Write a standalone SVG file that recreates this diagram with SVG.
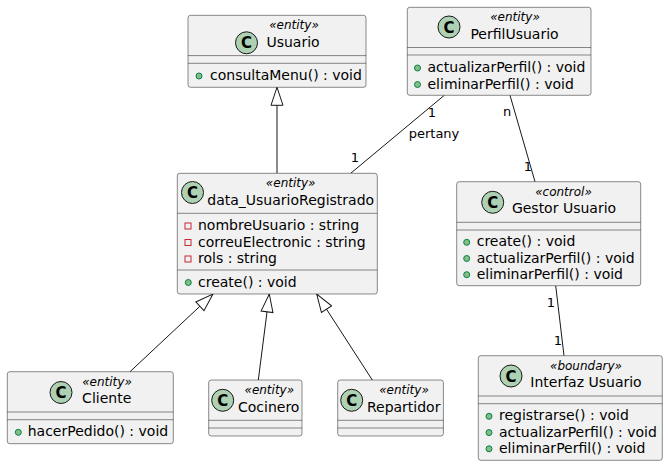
<svg xmlns="http://www.w3.org/2000/svg" width="668" height="466" viewBox="0 0 668 466">
<defs>
<style>
.box{fill:#F1F1F1;stroke:#181818;stroke-width:0.5}
.div{stroke:#181818;stroke-width:0.5}
.ci{fill:#ADD1B2;stroke:#181818;stroke-width:1}
.cl{font-family:"DejaVu Sans",sans-serif;font-size:15px;font-weight:bold;fill:#000;text-anchor:middle}
.st{font-family:"DejaVu Sans",sans-serif;font-size:12px;font-style:italic;fill:#000;text-anchor:middle}
.ti{font-family:"DejaVu Sans",sans-serif;font-size:14px;fill:#000;text-anchor:middle}
.mb{font-family:"DejaVu Sans",sans-serif;font-size:14px;fill:#000}
.pub{fill:#84BE84;stroke:#038048;stroke-width:1}
.prv{fill:none;stroke:#C82930;stroke-width:1}
.ln{stroke:#181818;stroke-width:1;fill:none}
.lb{font-family:"DejaVu Sans",sans-serif;font-size:13px;fill:#000;text-anchor:middle}
</style>
<marker id="inh" markerUnits="userSpaceOnUse" markerWidth="20" markerHeight="14" viewBox="-1 -7 20 14" refX="18" refY="0" orient="auto">
<path d="M0,-6 L18,0 L0,6 Z" fill="#FFFFFF" stroke="#181818" stroke-width="1"/>
</marker>
</defs>
<rect width="668" height="466" fill="#FFFFFF"/>

<g id="connectors">
<line class="ln" x1="277" y1="173.3" x2="277" y2="87.3" marker-end="url(#inh)"/>
<line class="ln" x1="130" y1="371.7" x2="213" y2="294" marker-end="url(#inh)"/>
<line class="ln" x1="258.3" y1="380" x2="269.3" y2="294" marker-end="url(#inh)"/>
<line class="ln" x1="372.3" y1="380" x2="316.7" y2="294" marker-end="url(#inh)"/>
<line class="ln" x1="444.3" y1="95.3" x2="350.7" y2="173.3"/>
<text class="lb" x="432" y="116.7">1</text>
<text class="lb" x="434" y="138">pertany</text>
<text class="lb" x="355" y="161.7">1</text>
<line class="ln" x1="510" y1="95.3" x2="535" y2="181.7"/>
<text class="lb" x="507" y="115.5">n</text>
<text class="lb" x="528" y="170.7">1</text>
<line class="ln" x1="555.7" y1="285.7" x2="564" y2="355.7"/>
<text class="lb" x="551" y="306.7">1</text>
<text class="lb" x="558" y="344.7">1</text>
</g>

<g id="usuario">
<rect class="box" x="188" y="15.3" width="178" height="72" rx="2.5"/>
<circle class="ci" cx="246.5" cy="42.8" r="11"/>
<text class="cl" x="246.5" y="48.3">C</text>
<text class="st" x="294" y="29.3">«entity»</text>
<text class="ti" x="293" y="46.8">Usuario</text>
<line class="div" x1="188" y1="55.6" x2="366" y2="55.6"/>
<line class="div" x1="188" y1="63.3" x2="366" y2="63.3"/>
<circle class="pub" cx="199" cy="76" r="3"/>
<text class="mb" x="210" y="80">consultaMenu() : void</text>
</g>

<g id="perfilUsuario">
<rect class="box" x="407.3" y="7.3" width="183.7" height="88" rx="2.5"/>
<circle class="ci" cx="449" cy="27" r="11"/>
<text class="cl" x="449" y="32.5">C</text>
<text class="st" x="515" y="21.3">«entity»</text>
<text class="ti" x="514.5" y="38.8">PerfilUsuario</text>
<line class="div" x1="407.3" y1="47.5" x2="591" y2="47.5"/>
<line class="div" x1="407.3" y1="55" x2="591" y2="55"/>
<circle class="pub" cx="417.5" cy="68" r="3"/>
<text class="mb" x="427.5" y="72">actualizarPerfil() : void</text>
<circle class="pub" cx="417.5" cy="84.5" r="3"/>
<text class="mb" x="427.5" y="88.5">eliminarPerfil() : void</text>
</g>

<g id="dataUsuarioRegistrado">
<rect class="box" x="177.3" y="173.3" width="200" height="120.7" rx="2.5"/>
<circle class="ci" cx="192.5" cy="192.5" r="11"/>
<text class="cl" x="192.5" y="198">C</text>
<text class="st" x="290.7" y="187.3">«entity»</text>
<text class="ti" x="290.7" y="205">data_UsuarioRegistrado</text>
<line class="div" x1="177.3" y1="213.3" x2="377.3" y2="213.3"/>
<rect class="prv" x="185" y="223" width="6" height="6"/>
<text class="mb" x="198" y="230">nombreUsuario : string</text>
<rect class="prv" x="185" y="239.5" width="6" height="6"/>
<text class="mb" x="198" y="246.5">correuElectronic : string</text>
<rect class="prv" x="185" y="256" width="6" height="6"/>
<text class="mb" x="198" y="263">rols : string</text>
<line class="div" x1="177.3" y1="270" x2="377.3" y2="270"/>
<circle class="pub" cx="188.3" cy="282.5" r="3"/>
<text class="mb" x="198" y="286.5">create() : void</text>
</g>

<g id="gestorUsuario">
<rect class="box" x="456.7" y="181.7" width="184" height="104" rx="2.5"/>
<circle class="ci" cx="492.7" cy="202.3" r="11"/>
<text class="cl" x="492.7" y="207.8">C</text>
<text class="st" x="563.5" y="195.7">«control»</text>
<text class="ti" x="564" y="212.5">Gestor Usuario</text>
<line class="div" x1="456.7" y1="222.3" x2="640.7" y2="222.3"/>
<line class="div" x1="456.7" y1="230" x2="640.7" y2="230"/>
<circle class="pub" cx="466.7" cy="242.3" r="3"/>
<text class="mb" x="476.7" y="246.3">create() : void</text>
<circle class="pub" cx="466.7" cy="258.5" r="3"/>
<text class="mb" x="476.7" y="262.5">actualizarPerfil() : void</text>
<circle class="pub" cx="466.7" cy="274.7" r="3"/>
<text class="mb" x="476.7" y="278.7">eliminarPerfil() : void</text>
</g>

<g id="interfazUsuario">
<rect class="box" x="478.3" y="355.7" width="184" height="104.6" rx="2.5"/>
<circle class="ci" cx="511" cy="376" r="11"/>
<text class="cl" x="511" y="381.5">C</text>
<text class="st" x="586" y="369.7">«boundary»</text>
<text class="ti" x="586" y="387">Interfaz Usuario</text>
<line class="div" x1="478.3" y1="396" x2="662.3" y2="396"/>
<line class="div" x1="478.3" y1="403.7" x2="662.3" y2="403.7"/>
<circle class="pub" cx="489" cy="416.3" r="3"/>
<text class="mb" x="499" y="420.3">registrarse() : void</text>
<circle class="pub" cx="489" cy="432.6" r="3"/>
<text class="mb" x="499" y="436.6">actualizarPerfil() : void</text>
<circle class="pub" cx="489" cy="448.8" r="3"/>
<text class="mb" x="499" y="452.8">eliminarPerfil() : void</text>
</g>

<g id="cliente">
<rect class="box" x="7.3" y="371.7" width="166" height="72" rx="2.5"/>
<circle class="ci" cx="61" cy="392.5" r="11"/>
<text class="cl" x="61" y="398">C</text>
<text class="st" x="107" y="385.7">«entity»</text>
<text class="ti" x="106.7" y="403.2">Cliente</text>
<line class="div" x1="7.3" y1="412" x2="173.3" y2="412"/>
<line class="div" x1="7.3" y1="419.7" x2="173.3" y2="419.7"/>
<circle class="pub" cx="18.3" cy="432.3" r="3"/>
<text class="mb" x="27.7" y="436.3">hacerPedido() : void</text>
</g>

<g id="cocinero">
<rect class="box" x="208.7" y="380" width="93.3" height="56" rx="2.5"/>
<circle class="ci" cx="222.7" cy="400.3" r="11"/>
<text class="cl" x="222.7" y="405.8">C</text>
<text class="st" x="269.3" y="394">«entity»</text>
<text class="ti" x="268.7" y="411.5">Cocinero</text>
<line class="div" x1="208.7" y1="420.3" x2="302" y2="420.3"/>
<line class="div" x1="208.7" y1="428" x2="302" y2="428"/>
</g>

<g id="repartidor">
<rect class="box" x="337.7" y="380" width="105.7" height="56" rx="2.5"/>
<circle class="ci" cx="351.7" cy="400.3" r="11"/>
<text class="cl" x="351.7" y="405.8">C</text>
<text class="st" x="404" y="394">«entity»</text>
<text class="ti" x="403.7" y="411.5">Repartidor</text>
<line class="div" x1="337.7" y1="420.3" x2="443.4" y2="420.3"/>
<line class="div" x1="337.7" y1="428" x2="443.4" y2="428"/>
</g>
</svg>
